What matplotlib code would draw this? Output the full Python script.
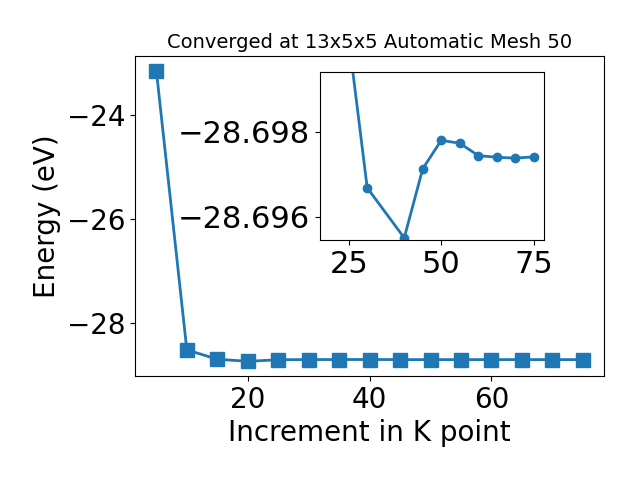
import matplotlib
matplotlib.use("Agg")
import matplotlib.pyplot as plt

# k-point increments and total energies (eV)
kpoints = [5, 10, 15, 20, 25, 30, 35, 40, 45, 50, 55, 60, 65, 70, 75]
energy = [-23.15, -28.51, -28.69, -28.73, -28.7002, -28.6967, -28.6961,
          -28.6955, -28.6971, -28.6978, -28.6977, -28.6974, -28.6974,
          -28.6974, -28.6974]

# zoomed view used for the inset
kpoints_zoom = [20, 25, 30, 40, 45, 50, 55, 60, 65, 70, 75]
energy_zoom = [-28.73, -28.7002, -28.69668, -28.6955, -28.69713, -28.6978,
               -28.69773, -28.69744, -28.6974, -28.69738, -28.69741]

fig, ax = plt.subplots(figsize=(6.4, 4.8), dpi=100)
ax.plot(kpoints, energy, marker="s", markersize=10, linewidth=2)
ax.set_xlabel("Increment in K point", fontsize=20)
ax.set_ylabel("Energy (eV)", fontsize=20)
ax.set_title("Converged at 13x5x5 Automatic Mesh 50", fontsize=14)
ax.tick_params(labelsize=20)
fig.subplots_adjust(left=0.211, right=0.944, top=0.883, bottom=0.217)

# inset zoom on the converged region
ins = fig.add_axes([0.5, 0.5, 0.35, 0.35])
ins.plot(kpoints_zoom, energy_zoom, marker="o", markersize=6, linewidth=2)
ins.set_ylim(-28.69545, -28.69941)
ins.set_yticks([-28.698, -28.696])
ins.set_xticks([25, 50, 75])
ins.ticklabel_format(axis="y", useOffset=False)
ins.tick_params(labelsize=22)

fig.savefig("out.png", dpi=100)
